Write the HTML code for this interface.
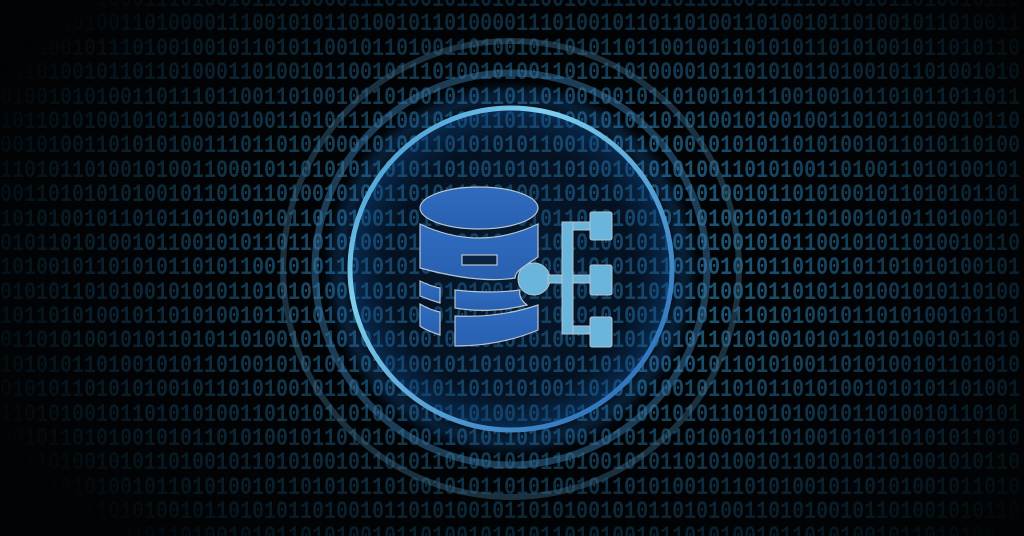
<!DOCTYPE html>
<html><head><meta charset="utf-8"><style>
html,body{margin:0;padding:0;background:#000;}
#w{position:relative;width:1024px;height:536px;overflow:hidden;background:#010305;}
#bin{position:absolute;left:0;top:-12px;width:1100px;
 -webkit-mask-image:radial-gradient(ellipse 640px 400px at 560px 270px,#000 30%,rgba(0,0,0,.45) 65%,rgba(0,0,0,0) 100%);
 mask-image:radial-gradient(ellipse 640px 400px at 560px 270px,#000 30%,rgba(0,0,0,.45) 65%,rgba(0,0,0,0) 100%);}
#bin div{font-family:"Liberation Mono",monospace;font-weight:bold;font-size:25px;line-height:24.4px;height:24.4px;color:#1c5272;white-space:pre;transform:scaleX(.8);transform-origin:0 0;}
svg{position:absolute;left:0;top:0;}
</style></head><body><div id="w">
<div id="bin">
<div>1001011010001110100101101000011101001011010110010011100101101001011101001011010010110</div>
<div>0010110100110100001110010101101001011010000111010010110110100110100101101001011010011</div>
<div>1101001011101001001011010110010110100110100101101011011001001101010110101001011010110</div>
<div>0110100101101101000110100101100101110100101001101011010000101101010110100101101001010</div>
<div>0100101010011011101100110100101101001010110110100100101101001011100100101101011011011</div>
<div>1011010100101011001010011010111010010100110110100101011010100101001001101011010010110</div>
<div>0010100110101010011101101010001010011010101011001010110100101010110101001011010110100</div>
<div>1101011010010100110001011010101101011010010101101001010101001101010011010011010100101</div>
<div>0011010101010010110101101001010011010110101001101010110101010010110101001011010101101</div>
<div>1010100101101011010010101101010011010100110010110101001011010010101101001010110100101</div>
<div>0101101010010110010101101101010010101100101011010100101101010010101100101011010010110</div>
<div>1010010110101011010110010101101010100101101010011010101101001010110100101101010100101</div>
<div>0101011010100101010110101010011010110101001011010010110101010010110101101001010110100</div>
<div>1011010100101101010010110101010011010101101001010101001101010110101001011010100101101</div>
<div>0110101001010110101101001011010101001011010101001101010010110101001010110101001011010</div>
<div>1010101101001010110100101010110101001011010100101101010010101101010011010100101101010</div>
<div>0101011010101001011010100101101001010110101010011010101001011010110101001010101101001</div>
<div>1101010010110101010011010101101001010110100101101010100101011010101001011010010110101</div>
<div>0010110101001010110101001011010101001101011010100101011010100101101001010110101011010</div>
<div>1011010010101101001011010100101101011010010101101001010110101001011010101101001010110</div>
<div>0101101010010110101001011010101101001010110101001011010100101101010010110101001011010</div>
<div>1010010110101001011010101101001011010100101101010010101101010011010100101101001010110</div>
<div>0101101001010110100101011010100101101001010101101010010110101001011010100101101010011</div>
</div>
<svg width="1024" height="536" viewBox="0 0 1024 536">
<defs>
<radialGradient id="g1" cx="511" cy="269" r="161" gradientUnits="userSpaceOnUse">
<stop offset="0" stop-color="#0a2e55" stop-opacity=".55"/>
<stop offset=".75" stop-color="#0a2a50" stop-opacity=".35"/>
<stop offset="1" stop-color="#0f4a8a" stop-opacity=".55"/>
</radialGradient>
<linearGradient id="rg" x1="0" y1="0" x2="1" y2="1">
<stop offset="0" stop-color="#2c7fc4"/><stop offset=".3" stop-color="#7fd0ee"/><stop offset="1" stop-color="#1e5fb0"/>
</linearGradient>
<linearGradient id="db" x1="0" y1="0" x2="0" y2="1">
<stop offset="0" stop-color="#2f6cc0"/><stop offset="1" stop-color="#2960b0"/>
</linearGradient>
<filter id="bl"><feGaussianBlur stdDeviation="6"/></filter>
</defs>
<circle cx="511" cy="269" r="228" fill="none" stroke="#3e6a88" stroke-width="6" opacity=".45"/>
<circle cx="511" cy="269" r="196" fill="none" stroke="#3a78a8" stroke-width="7" opacity=".5"/>
<circle cx="511" cy="269" r="172" fill="none" stroke="#1a60a8" stroke-width="16" opacity=".35" filter="url(#bl)"/>
<circle cx="511" cy="269" r="161" fill="url(#g1)"/>
<circle cx="511" cy="269" r="161" fill="none" stroke="url(#rg)" stroke-width="5"/>
<g fill="url(#db)" stroke="#b8c4d0" stroke-width="1.2">
<ellipse cx="479" cy="208" rx="59" ry="21"/>
<path d="M420 224 Q479 252 538 224 L538 257 Q530 262 522 268 Q515 273 515 278 Q479 284 420 268 Z"/>
<path d="M420 281 Q430 286 440 288 L440 303 Q430 300 420 296 Z"/>
<path d="M455 290 Q490 294 520 290 Q518 298 527 305 Q490 314 455 308 Z"/>
<path d="M420 304 Q430 310 440 312 L440 335 Q425 330 420 326 Z"/>
<path d="M455 316 Q500 318 538 305 L538 330 Q500 346 455 346 Z"/>
</g>
<rect x="462" y="255" width="35" height="10" fill="#0b2140" stroke="#b8c4d0" stroke-width="1.2"/>
<g fill="#6ab5dc" stroke="#b8c4d0" stroke-width="1">
<circle cx="534" cy="279" r="16"/>
<rect x="548" y="275" width="20" height="8"/>
<rect x="562" y="222" width="11" height="112"/>
<rect x="573" y="222" width="20" height="8"/>
<rect x="573" y="275" width="20" height="8"/>
<rect x="573" y="326" width="20" height="8"/>
<rect x="590" y="212" width="22" height="28" rx="2"/>
<rect x="590" y="265" width="22" height="30" rx="2"/>
<rect x="590" y="317" width="22" height="30" rx="2"/>
</g>
</svg>
</div></body></html>
